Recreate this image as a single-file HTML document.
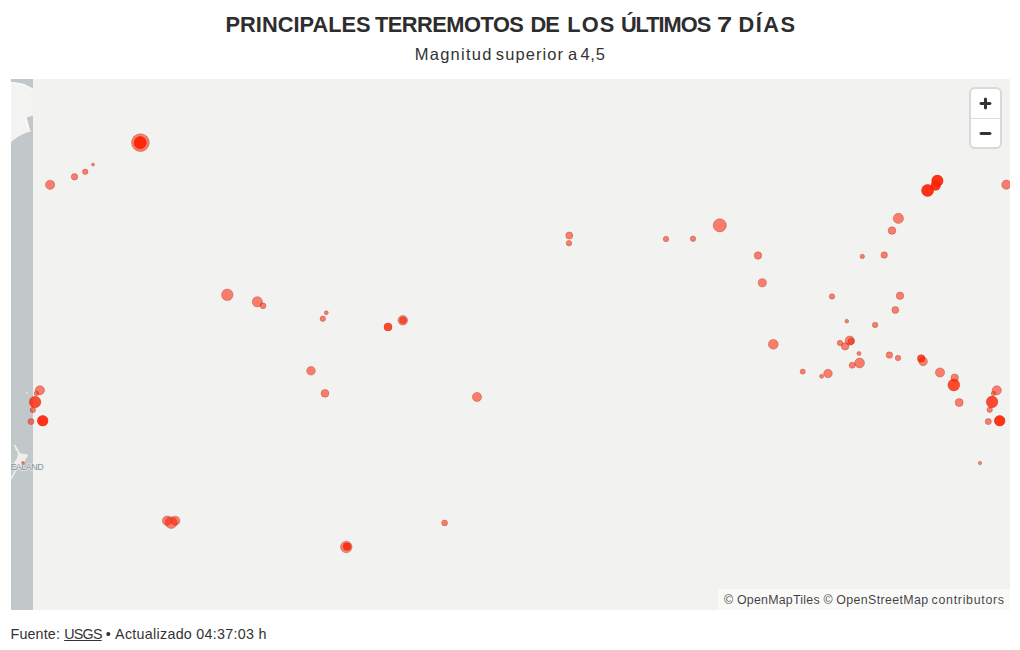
<!DOCTYPE html>
<html lang="es"><head><meta charset="utf-8"><title>Terremotos</title>
<style>
html,body{margin:0;padding:0;background:#fff;}
body{width:1020px;height:650px;position:relative;overflow:hidden;font-family:"Liberation Sans",sans-serif;color:#333;}
#title{position:absolute;left:0;width:1020px;top:12px;text-align:left;font-weight:bold;font-size:21.8px;line-height:26px;color:#2d2d2d;letter-spacing:0px;white-space:nowrap;}
#sub{position:absolute;left:0;width:1020px;top:44px;font-size:16.5px;line-height:20px;color:#333;white-space:nowrap;text-align:left;}
#sub span,#title span{position:absolute;top:0;transform-origin:0 50%;}
#map{position:absolute;left:11px;top:79px;width:999px;height:531px;background:rgb(242,243,240);overflow:hidden;}
#map svg{position:absolute;left:0;top:0;}
circle.s{stroke:rgba(160,50,40,0.38);stroke-width:0.9px;}
#ctrl{position:absolute;right:10px;top:10px;width:29px;height:58px;background:#fff;border-radius:4px;box-shadow:0 0 0 2px rgba(0,0,0,.1);}
#ctrl .b{width:29px;height:29px;position:relative;box-sizing:border-box;}
#ctrl .b svg{display:block;position:absolute;left:0;top:0;}
#ctrl .b+.b{border-top:1px solid #ddd;}
#attr{position:absolute;left:707px;width:292px;bottom:0;height:21px;background:rgba(255,255,255,.5);font-size:12.4px;line-height:23px;color:rgba(0,0,0,.75);white-space:nowrap;overflow:hidden;}
#attr span{position:absolute;top:0;}
#foot{position:absolute;left:10.5px;top:625px;font-size:14.3px;line-height:18px;color:#333;letter-spacing:0.15px;white-space:nowrap;}
#foot u{text-decoration:underline;letter-spacing:-0.75px;}
#f4{letter-spacing:0.28px;}
</style></head><body>
<div id="title"><span style="left:225.5px;letter-spacing:0.02px">PRINCIPALES</span> <span style="left:375.0px;letter-spacing:-0.5px">TERREMOTOS</span> <span style="left:530.6px;letter-spacing:-1.0px">DE</span> <span style="left:567.3px;letter-spacing:1.05px">LOS</span> <span style="left:620.9px;letter-spacing:-1.02px">ÚLTIMOS</span> <span style="left:716.9px;letter-spacing:0px;transform:scaleX(1.25)">7</span> <span style="left:738.4px;letter-spacing:1.55px">DÍAS</span></div>
<div id="sub"><span style="left:414.7px;letter-spacing:1.27px">Magnitud</span> <span style="left:495.8px;letter-spacing:1.1px">superior</span> <span style="left:567.9px">a</span> <span style="left:580.4px;letter-spacing:0.8px">4,5</span></div>
<div id="map">
<svg width="999" height="531" viewBox="0 0 999 531">
<rect x="0" y="0" width="22" height="531" fill="rgb(194,200,202)"/>
<!-- land in strip -->
<path d="M0,3 C5,3.4 10,3.8 13,5 C16,6.2 19,8 22,9.6 L22,36.4 L15.6,38.6 L19.2,52 L22,52 C15,52.8 7.5,56.5 0,63.2 Z" fill="rgb(243,244,242)"/>
<path d="M0,4 C5,4.4 10,4.8 13,6 C16,7.2 19,9 22,10.6" fill="none" stroke="rgb(250,250,250)" stroke-width="1.6" opacity="0.8"/>
<path d="M14.6,38.8 L18.2,52" fill="none" stroke="rgb(250,250,250)" stroke-width="1.6" opacity="0.8"/>
<g id="nz" fill="rgb(236,239,238)">
<path d="M2.8,365.2 L4.2,366 L6,368.6 L8.3,373.2 L10.5,374.6 L17.2,375.6 L16,378.4 L14.4,380.6 L13.6,384 L10.4,387.8 L7.6,390.2 L6.2,389 L5.6,386 L4.2,385.2 L3,383 L5,381 L6.4,378 L7,375 L5.8,372 L4.2,369.4 Z"/>
<path d="M0,398.5 L3.6,391.8 L5,392.6 L2.6,397 L0,401 Z"/>
<circle cx="16" cy="314" r="0.9" fill="rgb(236,240,240)"/>
</g>
<g fill="rgba(255,32,2,0.56)">
<circle class="s" cx="129.4" cy="63.6" r="8.90"/>
<circle class="s" cx="129.2" cy="63.7" r="6.10"/>
<circle cx="129.2" cy="63.7" r="6.10"/>
<circle cx="129.2" cy="63.7" r="6.10"/>
<circle class="s" cx="39.1" cy="105.8" r="4.60"/>
<circle class="s" cx="63.5" cy="97.8" r="3.25"/>
<circle class="s" cx="74.2" cy="92.8" r="2.75"/>
<circle class="s" cx="82.0" cy="85.5" r="1.50"/>
<circle class="s" cx="216.3" cy="215.8" r="5.80"/>
<circle class="s" cx="246.3" cy="222.8" r="5.10"/>
<circle class="s" cx="252.0" cy="226.8" r="2.95"/>
<circle class="s" cx="315.3" cy="233.8" r="2.05"/>
<circle class="s" cx="311.8" cy="239.8" r="2.75"/>
<circle class="s" cx="377.0" cy="248.0" r="4.00"/>
<circle cx="377.0" cy="248.0" r="4.00"/>
<circle class="s" cx="391.8" cy="241.3" r="4.80"/>
<circle class="s" cx="392.0" cy="241.3" r="3.25"/>
<circle class="s" cx="300.0" cy="291.8" r="4.30"/>
<circle class="s" cx="314.0" cy="314.3" r="3.90"/>
<circle class="s" cx="466.0" cy="318.0" r="4.60"/>
<circle class="s" cx="558.3" cy="156.5" r="3.55"/>
<circle class="s" cx="558.0" cy="164.2" r="2.75"/>
<circle class="s" cx="655.0" cy="160.0" r="2.75"/>
<circle class="s" cx="682.0" cy="159.8" r="2.75"/>
<circle class="s" cx="708.8" cy="146.3" r="6.60"/>
<circle class="s" cx="747.0" cy="176.5" r="3.75"/>
<circle class="s" cx="751.3" cy="203.8" r="4.10"/>
<circle class="s" cx="821.0" cy="217.5" r="2.75"/>
<circle class="s" cx="851.3" cy="177.4" r="2.25"/>
<circle class="s" cx="873.2" cy="176.0" r="3.25"/>
<circle class="s" cx="835.8" cy="242.2" r="1.85"/>
<circle class="s" cx="881.0" cy="151.6" r="3.85"/>
<circle class="s" cx="887.4" cy="139.4" r="5.10"/>
<circle class="s" cx="995.3" cy="105.7" r="4.60"/>
<circle class="s" cx="926.4" cy="101.8" r="5.70"/>
<circle cx="926.4" cy="101.8" r="5.70"/>
<circle cx="926.4" cy="101.8" r="5.70"/>
<circle class="s" cx="924.7" cy="106.5" r="4.80"/>
<circle cx="924.7" cy="106.5" r="4.80"/>
<circle cx="924.7" cy="106.5" r="4.80"/>
<circle class="s" cx="916.6" cy="111.4" r="6.00"/>
<circle cx="916.6" cy="111.4" r="6.00"/>
<circle cx="916.6" cy="111.4" r="6.00"/>
<circle class="s" cx="889.0" cy="216.7" r="3.75"/>
<circle class="s" cx="884.3" cy="231.0" r="3.45"/>
<circle class="s" cx="864.1" cy="245.9" r="2.75"/>
<circle class="s" cx="762.3" cy="265.3" r="4.90"/>
<circle class="s" cx="829.0" cy="264.0" r="2.75"/>
<circle class="s" cx="838.8" cy="261.6" r="4.60"/>
<circle class="s" cx="840.2" cy="262.4" r="3.15"/>
<circle class="s" cx="834.1" cy="267.3" r="3.75"/>
<circle class="s" cx="848.0" cy="274.5" r="2.05"/>
<circle class="s" cx="848.6" cy="284.0" r="4.90"/>
<circle class="s" cx="841.2" cy="286.3" r="3.05"/>
<circle class="s" cx="878.4" cy="276.1" r="3.25"/>
<circle class="s" cx="887.0" cy="279.0" r="2.75"/>
<circle class="s" cx="910.2" cy="279.4" r="3.75"/>
<circle cx="910.2" cy="279.4" r="3.75"/>
<circle class="s" cx="912.1" cy="282.4" r="4.30"/>
<circle class="s" cx="929.0" cy="293.5" r="4.60"/>
<circle class="s" cx="791.7" cy="292.6" r="2.55"/>
<circle class="s" cx="817.0" cy="294.5" r="4.30"/>
<circle class="s" cx="810.6" cy="297.3" r="2.05"/>
<circle class="s" cx="943.7" cy="298.7" r="3.75"/>
<circle class="s" cx="942.8" cy="306.0" r="5.90"/>
<circle cx="942.8" cy="306.0" r="5.90"/>
<circle class="s" cx="948.2" cy="323.6" r="4.00"/>
<circle class="s" cx="985.8" cy="311.3" r="4.60"/>
<circle class="s" cx="982.4" cy="314.4" r="2.25"/>
<circle class="s" cx="981.1" cy="322.9" r="5.80"/>
<circle cx="981.1" cy="322.9" r="5.80"/>
<circle class="s" cx="978.7" cy="330.8" r="2.75"/>
<circle class="s" cx="977.3" cy="342.6" r="3.05"/>
<circle class="s" cx="988.7" cy="341.7" r="5.30"/>
<circle cx="988.7" cy="341.7" r="5.30"/>
<circle cx="988.7" cy="341.7" r="5.30"/>
<circle class="s" cx="969.0" cy="384.1" r="1.75"/>
<circle class="s" cx="28.9" cy="311.3" r="4.60"/>
<circle class="s" cx="25.4" cy="314.4" r="2.25"/>
<circle class="s" cx="24.1" cy="323.0" r="5.80"/>
<circle cx="24.1" cy="323.0" r="5.80"/>
<circle class="s" cx="21.8" cy="331.0" r="2.75"/>
<circle class="s" cx="20.0" cy="342.6" r="3.05"/>
<circle class="s" cx="31.7" cy="341.7" r="5.30"/>
<circle cx="31.7" cy="341.7" r="5.30"/>
<circle cx="31.7" cy="341.7" r="5.30"/>
<circle class="s" cx="156.0" cy="441.7" r="4.70"/>
<circle class="s" cx="164.4" cy="441.7" r="4.50"/>
<circle class="s" cx="160.2" cy="443.6" r="5.90"/>
<circle class="s" cx="335.3" cy="468.0" r="5.80"/>
<circle class="s" cx="336.0" cy="467.6" r="3.75"/>
<circle cx="336.0" cy="467.6" r="3.75"/>
<circle class="s" cx="433.6" cy="444.0" r="2.95"/>
</g>
<text x="-0.6" y="390.5" font-family="Liberation Sans, sans-serif" font-size="9" letter-spacing="-0.55" fill="rgb(140,150,157)" stroke="rgba(236,236,234,0.7)" stroke-width="1.6" paint-order="stroke" stroke-linejoin="round">EALAND</text>
<circle cx="12" cy="383.9" r="1.8" fill="rgba(225,60,55,0.7)"/>
</svg>
<div id="ctrl"><div class="b"><svg width="29" height="29" viewBox="0 0 29 29"><path fill="#333" d="M14.5 8.5c-.75 0-1.5.75-1.5 1.5v3h-3c-.75 0-1.5.75-1.5 1.5S9.25 16 10 16h3v3c0 .75.75 1.5 1.5 1.5S16 19.750 16 19v-3h3c.75 0 1.5-.75 1.5-1.500S19.75 13 19 13h-3v-3c0-.75-.75-1.5-1.5-1.5z"/></svg></div><div class="b"><svg width="29" height="29" viewBox="0 0 29 29" style="top:-0.5px"><path fill="#333" d="M10 13c-.75 0-1.5.75-1.5 1.500S9.25 16 10 16h9c.75 0 1.5-.75 1.5-1.500S19.75 13 19 13h-9z"/></svg></div></div>
<div id="attr"><span style="left:6.1px;letter-spacing:0px">©</span> <span style="left:18.9px;letter-spacing:0.24px">OpenMapTiles</span> <span style="left:105.6px;letter-spacing:0px">©</span> <span style="left:118.3px;letter-spacing:0.37px">OpenStreetMap</span> <span style="left:213.6px;letter-spacing:0.7px">contributors</span></div>
</div>
<div id="foot"><span id="f1">Fuente: </span><u id="f2">USGS</u><span id="f3"> • </span><span id="f4">Actualizado 04:37:03 h</span></div>
</body></html>
